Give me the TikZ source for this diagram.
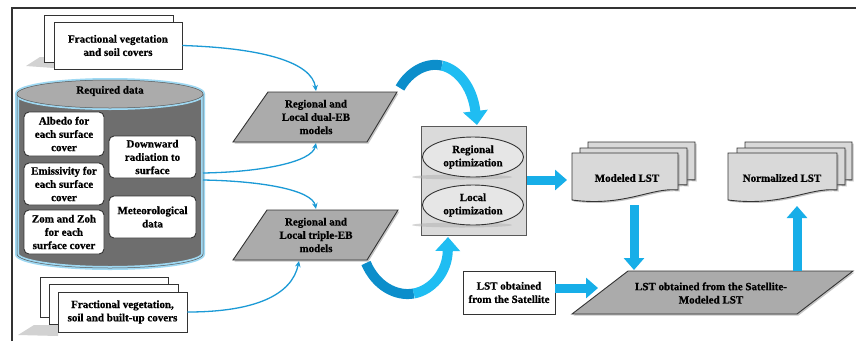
\documentclass[tikz,border=0pt]{standalone}
\usepackage{fontspec}
\setmainfont{Liberation Serif}[BoldFont={Liberation Serif Bold},BoldFeatures={FakeBold=0.8}]
\usetikzlibrary{arrows.meta,shapes.geometric,shadows}
\definecolor{thinblue}{HTML}{1B9AD6}
\definecolor{bigblue}{HTML}{17AEE8}
\definecolor{curvdark}{HTML}{0C8ECB}
\definecolor{curvlight}{HTML}{1FBDF2}
\definecolor{paragray}{HTML}{ABABAB}
\definecolor{boxgray}{HTML}{DADADA}
\definecolor{docgray}{HTML}{D9D9D9}
\definecolor{ellgray}{HTML}{E6E6E6}
\definecolor{cylbody}{HTML}{6E6E6E}
\definecolor{cyltop}{HTML}{ABABAB}
\definecolor{edgegray}{HTML}{333333}
\definecolor{glow}{HTML}{9FD9F3}
\newcommand\docshape[5][]{%
  \path[#1] (#2,#3) -- (#4,#3) -- ({#4},{#5-10})
    .. controls ({#4-0.25*(#4-#2)},{#5-13}) and ({#2+0.5*(#4-#2)},{#5+7}) .. (#2,#5) -- cycle;}
\begin{document}
\begin{tikzpicture}[x=1pt,y=-1pt,
  lbl/.style={font=\fontsize{11}{13.3}\selectfont\bfseries, align=center, inner sep=0pt},
  thinarr/.style={draw=thinblue, line width=1.3pt, -{Stealth[length=6pt,width=5.5pt]}},
  bigarr/.style={draw=bigblue, line width=9pt, -{Triangle[length=12pt,width=20pt]}},
  curvbase/.style={draw=curvdark, line width=10pt},
  curvarr/.style={draw=curvlight, line width=10pt, -{Triangle[length=14pt,width=24pt]}},
  whitebox/.style={draw=edgegray, fill=white, line width=0.9pt},
  rbox/.style={draw=edgegray, fill=white, line width=0.9pt, rounded corners=5pt,
    font=\fontsize{11}{13.3}\selectfont\bfseries, align=center, inner sep=0pt},
  shad/.style={drop shadow={shadow xshift=1.5pt, shadow yshift=-1.5pt, opacity=0.45}},
  para/.style={draw=edgegray, fill=paragray, line width=0.9pt, shad},
  docst/.style={draw=edgegray, fill=docgray, line width=0.9pt, shad},
  optell/.style={ellipse, draw=edgegray, fill=ellgray, line width=0.9pt,
    minimum width=101pt, minimum height=40pt, inner sep=0pt,
    font=\fontsize{11}{13.3}\selectfont\bfseries, align=center},
]
\useasboundingbox (0,0) rectangle (856,341);
\fill[white] (0,0) rectangle (856,341);
% frame
\draw[line width=1.4pt, edgegray] (12,341) -- (12,8) -- (856,8);

% ---------- top-left document stack ----------
\fill[gray!35] (26,66) -- (40,57) -- (54,57) -- (54,68) -- cycle;
\path[whitebox] (44,15) rectangle (173,62);
\node[whitebox, lbl, minimum width=128pt, minimum height=47pt, inner sep=0pt] (fvs) at (118,45.5)
  {Fractional vegetation\\and soil covers};

% ---------- cylinder ----------
\fill[cylbody] (17,94) rectangle (203,254);
\fill[cylbody] (110,254) ellipse [x radius=93, y radius=14];
\draw[glow, line width=4pt] (17,94) -- (17,254)
  .. controls (17,261.7) and (58.6,268) .. (110,268)
  .. controls (161.4,268) and (203,261.7) .. (203,254) -- (203,94);
\draw[glow, line width=4pt] (110,94) ellipse [x radius=93, y radius=14];
\draw[gray!70!black, line width=0.5pt] (17,94) -- (17,254)
  .. controls (17,261.7) and (58.6,268) .. (110,268)
  .. controls (161.4,268) and (203,261.7) .. (203,254) -- (203,94);
\fill[cyltop] (110,94) ellipse [x radius=93, y radius=14];
\draw[gray!70!black, line width=0.5pt] (110,94) ellipse [x radius=93, y radius=14];
\node[lbl] (req) at (110,91) {Required data};
\coordinate (cylA) at (203,173);
\coordinate (cylB) at (203,180);

\node[rbox, minimum width=80pt, minimum height=44pt] (alb) at (64,134) {Albedo for\\each surface\\cover};
\node[rbox, minimum width=80pt, minimum height=42pt] (emi) at (64,184) {Emissivity for\\each surface\\cover};
\node[rbox, minimum width=80pt, minimum height=44pt] (zom) at (64,232) {Zom and Zoh\\for each\\surface cover};
\node[rbox, minimum width=87pt, minimum height=42pt] (dwn) at (152.5,157) {Downward\\radiation to\\surface};
\node[rbox, minimum width=87pt, minimum height=42pt] (met) at (152.5,217) {Meteorological\\data};

% ---------- bottom-left document stack ----------
\fill[gray!35] (18,335) -- (34,325) -- (58,325) -- (58,336) -- cycle;
\path[whitebox] (40,277) rectangle (168,317);
\path[whitebox] (49,284) rectangle (178,324);
\node[whitebox, lbl, minimum width=129pt, minimum height=40pt, inner sep=0pt] (fvsb) at (122.5,312)
  {Fractional vegetation,\\soil and built-up covers};

% ---------- parallelograms ----------
\path[para] (268,92) -- (397,92) -- (367,142) -- (233,142) -- cycle;
\node[lbl] (p1) at (316,117) {Regional and\\Local dual-EB\\models};
\coordinate (p1top) at (316,91);
\coordinate (p1bot) at (316,143);
\coordinate (p1tr) at (400,88);

\path[para] (267,210) -- (398,210) -- (367,260) -- (233,260) -- cycle;
\node[lbl] (p2) at (316,235) {Regional and\\Local triple-EB\\models};
\coordinate (p2top) at (316,209);
\coordinate (p2bot) at (299,261);
\coordinate (p2br) at (366,263);

% ---------- optimization box ----------
\path[draw=gray!70!black, fill=boxgray, line width=0.9pt] (421,126) rectangle (526,235);
\coordinate (opttop) at (477,125);
\coordinate (optbot) at (448,237);
\coordinate (optr) at (527,180);
\fill[gray!60, opacity=0.55] (462,177) ellipse [x radius=50, y radius=2.5];
\fill[gray!60, opacity=0.55] (462,225) ellipse [x radius=50, y radius=2.5];
\node[optell] (reg) at (473,157) {Regional\\optimization};
\node[optell] (loc) at (473,205) {Local\\optimization};

% ---------- Modeled LST stack ----------
\docshape[docst]{588}{142}{695}{190}
\docshape[docst]{580}{148}{687}{195}
\docshape[docst]{572}{153}{678}{200}
\node[lbl] (mod) at (627,178) {Modeled LST};
\coordinate (modl) at (567,180);
\coordinate (modb) at (634,205);

% ---------- Normalized LST stack ----------
\docshape[docst]{745}{142}{852}{190}
\docshape[docst]{737}{148}{845}{195}
\docshape[docst]{728}{153}{837}{200}
\node[lbl] (nor) at (782,178) {Normalized LST};
\coordinate (norb) at (797,206);

% ---------- satellite box and final parallelogram ----------
\node[whitebox, lbl, minimum width=92pt, minimum height=43pt, inner sep=0pt] (sat) at (509,292.5)
  {LST obtained\\from the Satellite};
\path[para] (628,271) -- (853,271) -- (797,314) -- (572,314) -- cycle;
\node[lbl] (p3) at (711,293) {LST obtained from the Satellite-\\Modeled LST};
\coordinate (p3l) at (598,288);
\coordinate (p3a) at (634,270);
\coordinate (p3b) at (797,271);

% ---------- thin connectors ----------
\draw[thinarr] (fvs.east) .. controls (262,48) and (312,62) .. (p1top);
\draw[thinarr] (cylA) .. controls (262,172) and (312,162) .. (p1bot);
\draw[thinarr] (cylB) .. controls (262,181) and (312,190) .. (p2top);
\draw[thinarr] (fvsb.east) .. controls (255,312) and (292,295) .. (p2bot);

% ---------- curved big arrows (two-tone) ----------
\coordinate (c1m) at (441.9,65.6);
\draw[curvbase] (p1tr) .. controls (409,72) and (426,62) .. (c1m);
\draw[curvarr] (c1m) .. controls (457.75,69.25) and (472.5,86.5) .. (opttop);
\coordinate (c2m) at (413.75,293.5);
\draw[curvbase] (p2br) .. controls (375.5,285.5) and (395.75,296.75) .. (c2m);
\draw[curvarr] (c2m) .. controls (431.75,290.25) and (447.5,272.5) .. (optbot);

% ---------- block arrows ----------
\draw[bigarr] (optr) -- (modl);
\draw[bigarr] (modb) -- (p3a);
\draw[bigarr] (p3b) -- (norb);
\draw[bigarr] (sat.east |- p3l) -- (p3l);
\end{tikzpicture}
\end{document}
